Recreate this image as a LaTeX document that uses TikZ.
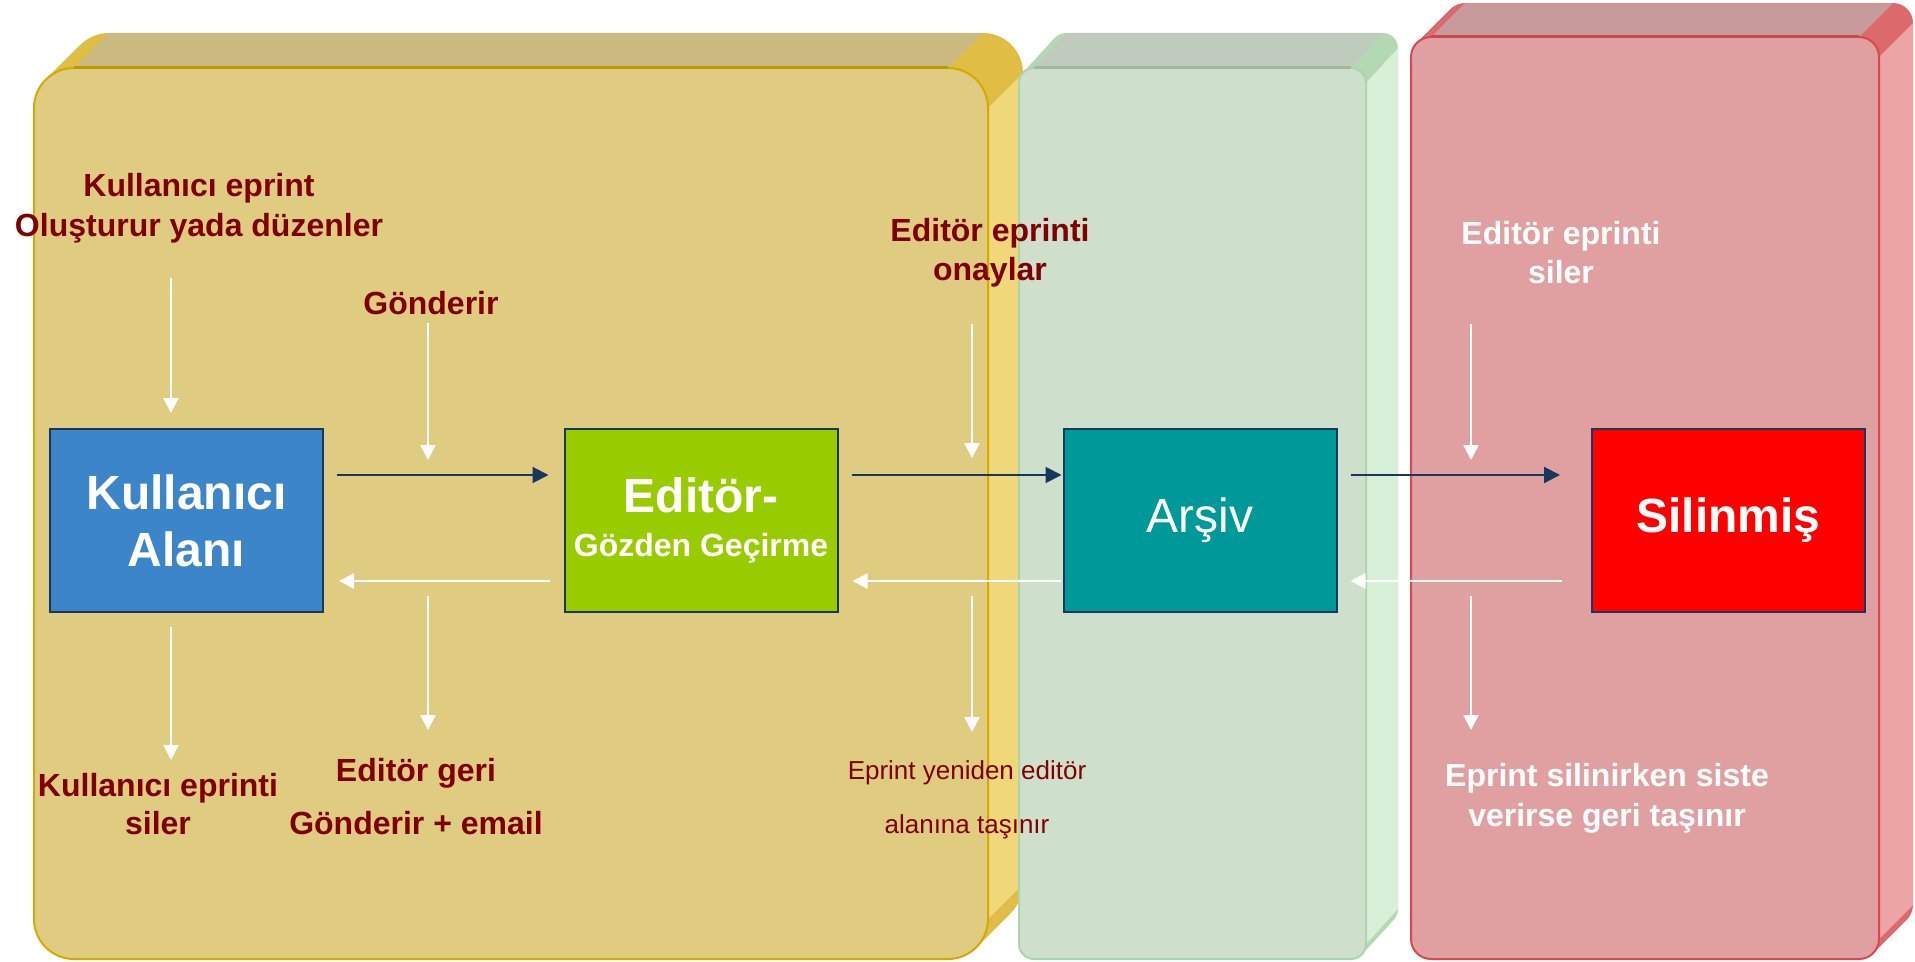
\documentclass[tikz,border=0pt]{standalone}
\usepackage{fontspec}
\setmainfont{Liberation Sans}
\usetikzlibrary{arrows.meta}
\definecolor{yelfront}{HTML}{DFCC80}
\definecolor{yeltop}{HTML}{CBBB80}
\definecolor{yelside}{HTML}{F0D77A}
\definecolor{yelcorner}{HTML}{E0BE45}
\definecolor{yelborder}{HTML}{D4AA00}
\definecolor{yeledge}{HTML}{BF9700}
\definecolor{grnfront}{HTML}{CEE0CC}
\definecolor{grntop}{HTML}{BECBBD}
\definecolor{grnside}{HTML}{D8EFD8}
\definecolor{grncorner}{HTML}{B3D9B3}
\definecolor{grnborder}{HTML}{AED3AE}
\definecolor{grnedge}{HTML}{9DBB99}
\definecolor{redfront}{HTML}{E0A0A2}
\definecolor{redtop}{HTML}{C99A9B}
\definecolor{redside}{HTML}{ECA4A4}
\definecolor{redcorner}{HTML}{DC6A6C}
\definecolor{redborder}{HTML}{D9484B}
\definecolor{rededge}{HTML}{C84A4C}
\definecolor{navy}{HTML}{17375E}
\definecolor{kblue}{HTML}{3C85C8}
\definecolor{egreen}{HTML}{99CC00}
\definecolor{ateal}{HTML}{009999}
\definecolor{sred}{HTML}{FF0000}
\definecolor{darkred}{HTML}{800000}
\newcommand\drawslab[8]{%
  \foreach \t in {0,0.025,...,1.0001}{%
    \fill[#8corner, rounded corners={#5*0.5pt}] ({#1+\t*#6},{#2-\t*#7}) rectangle ({#3+\t*#6},{#4-\t*#7});
  }
  \fill[#8top] ({#1+#5},#2) -- ({#1+#5+#6},{#2-#7}) -- ({#3-#5+#6},{#2-#7}) -- ({#3-#5},#2) -- cycle;
  \fill[#8side] (#3,{#2+#5}) -- ({#3+#6},{#2+#5-#7}) -- ({#3+#6},{#4-#5-#7}) -- (#3,{#4-#5}) -- cycle;
  \filldraw[fill=#8front, draw=#8border, line width=1pt, rounded corners={#5*0.5pt}] (#1,#2) rectangle (#3,#4);
  \draw[#8edge, line width=1.5pt] ({#1+#5},#2) -- ({#3-#5},#2);
}
\begin{document}
\begin{tikzpicture}[x=0.5pt,y=-0.5pt,
  stage/.style={draw=navy, line width=1pt, minimum width=136.5pt, minimum height=91.5pt, inner sep=0pt, text=white, align=center},
  lbl/.style={font=\fontsize{16}{20}\selectfont\bfseries, text=darkred, align=center, inner sep=0pt},
  wlbl/.style={lbl, text=white},
  navyarr/.style={draw=navy, line width=1pt, -{Triangle[length=8pt,width=8pt]}},
  whitearr/.style={draw=white, line width=1.2pt, -{Triangle[length=7.5pt,width=7.5pt]}}]
\useasboundingbox (0,0) rectangle (1915,962);
\fill[white] (0,0) rectangle (1915,962);

% 3D slabs
\drawslab{34}{68}{988}{959}{40}{35}{35}{yel}
\drawslab{1019}{68}{1366}{959}{15}{32}{35}{grn}
\drawslab{1411}{37}{1879}{959}{20}{34}{34}{red}

% stage boxes
\node[stage, fill=kblue, font=\fontsize{24}{28.5}\selectfont\bfseries] (K) at (186.5,520.5) {Kullanıcı\\Alanı};
\node[stage, fill=egreen, font=\fontsize{24}{22}\selectfont\bfseries] (E) at (701,520.5) {Editör-\\{\fontsize{16}{22}\selectfont Gözden Geçirme}};
\node[stage, fill=ateal, font=\fontsize{24}{28}\selectfont] (A) at (1200,520.5) {Arşiv};
\node[stage, fill=sred, font=\fontsize{24}{28}\selectfont\bfseries] (S) at (1728.5,520.5) {Silinmiş};

% labels
\node[lbl] (t1) at (199,208) {Kullanıcı eprint\\Oluşturur yada düzenler};
\node[lbl] (t2) at (431,303) {Gönderir};
\node[lbl, font=\fontsize{16}{19.5}\selectfont\bfseries] (t3) at (990,253) {Editör eprinti\\onaylar};
\node[wlbl, font=\fontsize{16}{19.5}\selectfont\bfseries] (t4) at (1561,253) {Editör eprinti\\siler};
\node[lbl, font=\fontsize{16}{19}\selectfont\bfseries] (t5) at (158,804) {Kullanıcı eprinti\\siler};
\node[lbl, font=\fontsize{16}{26.5}\selectfont\bfseries] (t6) at (416,797) {Editör geri\\Gönderir + email};
\node[lbl, font=\fontsize{13}{27}\selectfont] (t7) at (967,800) {Eprint yeniden editör\\alanına taşınır};
\node[wlbl] (t8) at (1607,798) {Eprint silinirken siste\\verirse geri taşınır};

% horizontal connectors
\coordinate (yup) at (0,475);
\coordinate (ydn) at (0,581);
\draw[navyarr, shorten <=6.5pt, shorten >=7.5pt] (K.east |- yup) -- (E.west |- yup);
\draw[navyarr, shorten <=6.5pt, shorten >=0.5pt] (E.east |- yup) -- (A.west |- yup);
\draw[navyarr, shorten <=6.5pt, shorten >=15.5pt] (A.east |- yup) -- (S.west |- yup);
\draw[whitearr, shorten <=7pt, shorten >=7.5pt] (E.west |- ydn) -- (K.east |- ydn);
\draw[whitearr, shorten <=1pt, shorten >=7pt] (A.west |- ydn) -- (E.east |- ydn);
\draw[whitearr, shorten <=14.5pt, shorten >=6.5pt] (S.west |- ydn) -- (A.east |- ydn);

% vertical connectors
\coordinate (v1s) at (171,278);
\coordinate (v2s) at (428,323); \coordinate (v2e) at (428,460);
\coordinate (v3s) at (972,324); \coordinate (v3e) at (972,458);
\coordinate (v4s) at (1471,324); \coordinate (v4e) at (1471,460);
\coordinate (v5e) at (171,760);
\coordinate (v6s) at (428,596); \coordinate (v6e) at (428,730);
\coordinate (v7s) at (972,596); \coordinate (v7e) at (972,732);
\coordinate (v8s) at (1471,596); \coordinate (v8e) at (1471,730);
\draw[whitearr, shorten >=7.5pt] (v1s) -- (v1s |- K.north);
\draw[whitearr] (v2s) -- (v2e);
\draw[whitearr] (v3s) -- (v3e);
\draw[whitearr] (v4s) -- (v4e);
\draw[whitearr, shorten <=7pt] (v5e |- K.south) -- (v5e);
\draw[whitearr] (v6s) -- (v6e);
\draw[whitearr] (v7s) -- (v7e);
\draw[whitearr] (v8s) -- (v8e);
\end{tikzpicture}
\end{document}
